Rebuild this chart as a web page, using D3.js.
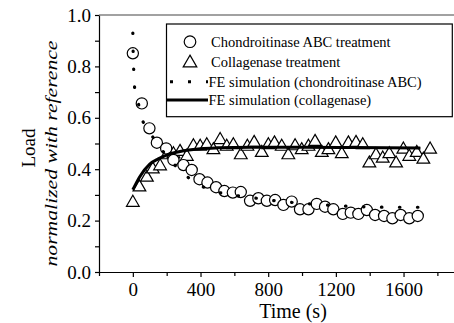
<!DOCTYPE html>
<html><head><meta charset="utf-8">
<script src="https://cdn.jsdelivr.net/npm/d3@7"></script>
<style>
html,body{margin:0;padding:0;background:#fff;}
svg{display:block;font-family:"Liberation Serif","Times New Roman",serif;}
</style></head>
<body>
<svg id="c" width="454" height="323"></svg>
<script>
// Chondroitinase ABC treatment (circles)
const chondroTime = [0,53,98,142,197,240,299,348,394,441,492,541,591,638,693,742,792,841,890,939,988,1038,1087,1136,1185,1241,1288,1333,1383,1432,1485,1534,1583,1634,1684];
const chondroLoad = [0.851,0.656,0.559,0.503,0.481,0.436,0.416,0.397,0.361,0.348,0.330,0.315,0.309,0.311,0.277,0.287,0.277,0.280,0.261,0.274,0.244,0.244,0.265,0.254,0.244,0.226,0.231,0.226,0.241,0.222,0.218,0.209,0.222,0.209,0.218];
// Collagenase treatment (triangles)
const collaTime = [0,39,83,118,161,201,240,279,319,358,398,437,476,516,555,594,638,677,717,762,801,837,880,919,959,998,1038,1077,1117,1156,1199,1235,1274,1319,1359,1398,1437,1477,1516,1556,1599,1634,1678,1717,1757];
const collaLoad = [0.270,0.330,0.368,0.400,0.412,0.455,0.459,0.468,0.449,0.490,0.488,0.494,0.475,0.514,0.488,0.494,0.455,0.488,0.503,0.464,0.494,0.501,0.488,0.455,0.490,0.475,0.488,0.507,0.464,0.475,0.501,0.459,0.501,0.503,0.494,0.423,0.455,0.442,0.459,0.423,0.477,0.449,0.464,0.438,0.477];
// FE simulation (chondroitinase ABC)
const simChondroTime = [0,2,5,10,20,40,60,90,130,200,300,400,500,600,700,800,900,1000,1100,1200,1300,1400,1500,1600,1700];
const simChondroLoad = [0.93,0.85,0.79,0.72,0.68,0.64,0.585,0.55,0.514,0.45,0.38,0.335,0.31,0.298,0.29,0.28,0.273,0.267,0.262,0.258,0.255,0.253,0.252,0.252,0.252];
// FE simulation (collagenase)
const simCollaTime = [0,40,100,150,200,250,300,400,500,700,1000,1300,1700];
const simCollaLoad = [0.32,0.37,0.42,0.44,0.455,0.465,0.472,0.48,0.483,0.485,0.485,0.484,0.482];

const xTicks = [0,400,800,1200,1600];
const xMinor = [-200,200,600,1000,1400,1800];
const yTicks = [0.0,0.2,0.4,0.6,0.8,1.0];
const yMinor = [0.1,0.3,0.5,0.7,0.9];
const legendLabels = ["Chondroitinase ABC treatment","Collagenase treatment","FE simulation (chondroitinase ABC)","FE simulation (collagenase)"];

const svg = d3.select("#c");
const L=99, T=15, B=272;
const x = d3.scaleLinear().domain([-200,1900]).range([L,454.3]);
const y = d3.scaleLinear().domain([0,1]).range([B,T]);

// axes
const gx = svg.append("g").attr("transform",`translate(0,${B})`)
  .call(d3.axisBottom(x).tickValues(xTicks).tickSize(5).tickSizeOuter(0).tickFormat(d3.format("d")));
const gxm = svg.append("g").attr("transform",`translate(0,${B})`)
  .call(d3.axisBottom(x).tickValues(xMinor).tickSize(4).tickSizeOuter(0).tickFormat(""));
gxm.select(".domain").remove();
const gy = svg.append("g").attr("transform",`translate(${L},0)`)
  .call(d3.axisLeft(y).tickValues(yTicks).tickSize(4).tickSizeOuter(0).tickFormat(d3.format(".1f")));
const gym = svg.append("g").attr("transform",`translate(${L},0)`)
  .call(d3.axisLeft(y).tickValues(yMinor).tickSize(4).tickSizeOuter(0).tickFormat(""));
gym.select(".domain").remove();
svg.selectAll(".tick text").attr("font-family","'Liberation Serif','Times New Roman',serif").attr("font-size",19).attr("fill","#000");
gx.selectAll(".tick text").attr("dy","0.85em");
gy.selectAll(".tick text").attr("x",-8);
svg.selectAll(".domain, .tick line").attr("stroke","#000").attr("stroke-width",1.2);
// top frame line
svg.append("line").attr("x1",L).attr("x2",454).attr("y1",T).attr("y2",T).attr("stroke","#444").attr("stroke-width",1.2);

// axis titles
svg.append("text").attr("x",293).attr("y",318).attr("text-anchor","middle").attr("font-size",20).text("Time (s)");
svg.append("text").attr("transform","translate(35,148) rotate(-90)").attr("text-anchor","middle").attr("font-size",19).text("Load");
svg.append("text").attr("transform","translate(57,153.5) rotate(-90)").attr("text-anchor","middle").attr("font-size",16.5).attr("font-style","italic")
  .attr("textLength",226).attr("lengthAdjust","spacingAndGlyphs").text("normalized with reference");

const triPath = d3.symbol().type(d3.symbolTriangle).size(70);
// triangles
svg.append("g").selectAll("path").data(collaTime.map((t,i)=>[t,collaLoad[i]])).join("path")
  .attr("d",triPath).attr("transform",d=>`translate(${x(d[0])},${y(d[1])})`)
  .attr("fill","#fff").attr("stroke","#000").attr("stroke-width",1.2);
// circles
svg.append("g").selectAll("circle").data(chondroTime.map((t,i)=>[t,chondroLoad[i]])).join("circle")
  .attr("cx",d=>x(d[0])).attr("cy",d=>y(d[1])).attr("r",5.6)
  .attr("fill","#fff").attr("stroke","#000").attr("stroke-width",1.2);

const line = d3.line().x(d=>x(d[0])).y(d=>y(d[1])).curve(d3.curveMonotoneX);
svg.append("path").datum(simCollaTime.map((t,i)=>[t,simCollaLoad[i]])).attr("d",line)
  .attr("fill","none").attr("stroke","#000").attr("stroke-width",3);
svg.append("path").datum(simChondroTime.map((t,i)=>[t,simChondroLoad[i]])).attr("d",d3.line().x(d=>x(d[0])).y(d=>y(d[1])).curve(d3.curveLinear))
  .attr("fill","none").attr("stroke","#000").attr("stroke-width",3.2).attr("stroke-linecap","round").attr("stroke-dasharray","0.5,17.5");

// legend
const lg = svg.append("g");
lg.append("rect").attr("x",166.5).attr("y",24).attr("width",285.8).attr("height",92.7)
  .attr("fill","#fff").attr("stroke","#000").attr("stroke-width",1.2);
const rows=[41.7,62,81.7,100];
lg.append("circle").attr("cx",190).attr("cy",rows[0]).attr("r",5.8).attr("fill","#fff").attr("stroke","#000").attr("stroke-width",1.2);
lg.append("path").attr("d",d3.symbol().type(d3.symbolTriangle).size(80)).attr("transform",`translate(190,${rows[1]+1})`).attr("fill","#fff").attr("stroke","#000").attr("stroke-width",1.2);
lg.append("line").attr("x1",170).attr("x2",208).attr("y1",rows[2]).attr("y2",rows[2]).attr("stroke","#000").attr("stroke-width",3).attr("stroke-dasharray","3,15");
lg.append("line").attr("x1",166.5).attr("x2",208).attr("y1",rows[3]).attr("y2",rows[3]).attr("stroke","#000").attr("stroke-width",3);
legendLabels.forEach((s,i)=>{
  lg.append("text").attr("x",i<2?211:208.5).attr("y",rows[i]).attr("dy","0.35em").attr("font-size",14.5).text(s);
});
</script>
</body></html>
